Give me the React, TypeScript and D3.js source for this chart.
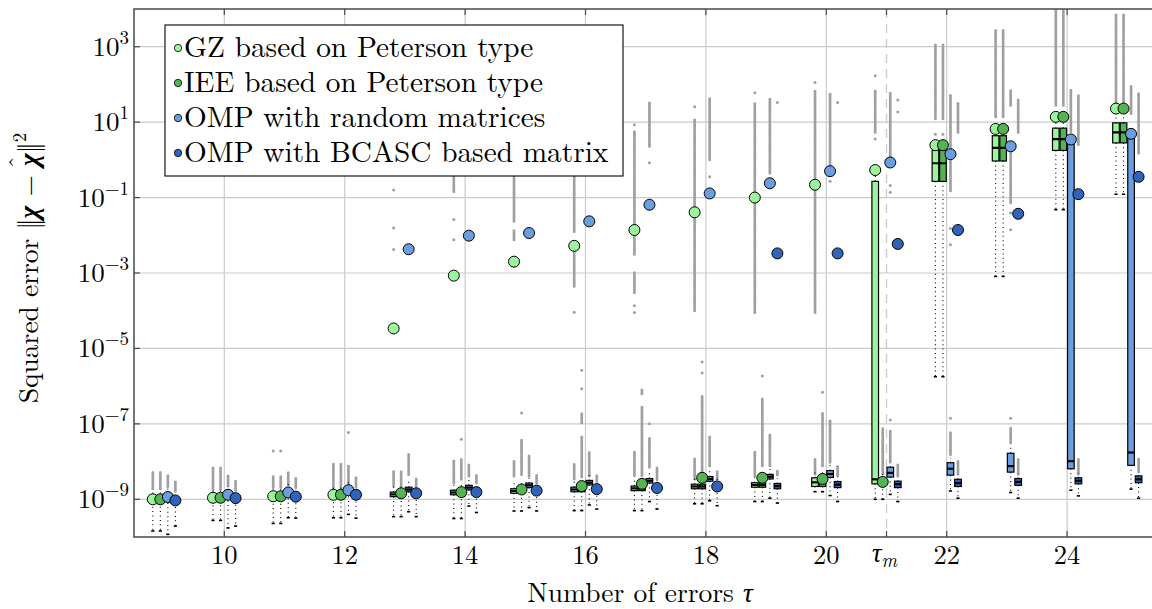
import React from 'react';
import * as d3 from 'd3';

// ---------------- data (log10 of squared error) ----------------
const TAUS = [9, 10, 11, 12, 13, 14, 15, 16, 17, 18, 19, 20, 21, 22, 23, 24, 25];
const X_TICKS = [10, 12, 14, 16, 18, 20, 22, 24];
const TAU_M = 21;
const Y_TICK_EXPONENTS = [-9, -7, -5, -3, -1, 1, 3];

const SERIES_NAMES = [
  'GZ based on Peterson type',
  'IEE based on Peterson type',
  'OMP with random matrices',
  'OMP with BCASC based matrix',
];

const gzMean = [-9.0, -8.96, -8.92, -8.88, -4.47, -3.07, -2.7, -2.28, -1.86, -1.39, -1.0, -0.66, -0.27, 0.39, 0.82, 1.14, 1.36];
const ieeMean = [-9.0, -8.96, -8.92, -8.88, -8.84, -8.81, -8.74, -8.65, -8.59, -8.43, -8.43, -8.46, -8.54, 0.39, 0.82, 1.14, 1.36];
const randMean = [-8.94, -8.88, -8.82, -8.76, -2.37, -2.01, -1.94, -1.63, -1.19, -0.89, -0.62, -0.3, -0.07, 0.15, 0.36, 0.54, 0.69];
const bcascMean = [-9.03, -8.97, -8.93, -8.88, -8.84, -8.81, -8.77, -8.73, -8.7, -8.66, -2.48, -2.48, -2.23, -1.86, -1.43, -0.91, -0.45];

const gzQ1 = [-9.08, -9.04, -9.0, -8.96, -8.93, -8.88, -8.84, -8.8, -8.77, -8.72, -8.68, -8.66, -8.59, -0.57, -0.03, 0.25, 0.45];
const gzMed = [-9.02, -8.98, -8.94, -8.9, -8.87, -8.82, -8.78, -8.74, -8.71, -8.66, -8.62, -8.55, -8.47, -0.09, 0.32, 0.55, 0.73];
const gzQ3 = [-8.96, -8.92, -8.88, -8.84, -8.81, -8.76, -8.72, -8.68, -8.65, -8.6, -8.56, -8.43, -0.57, 0.25, 0.64, 0.84, 0.98];
const gzLo = [-9.84, -9.56, -9.64, -9.49, -9.46, -9.51, -9.31, -9.3, -9.3, -9.12, -9.06, -8.8, -9.0, -5.75, -3.09, -1.32, -0.91];
const gzHi = [-8.8, -8.76, -8.72, -8.68, -8.65, -8.6, -8.56, -8.52, -8.5, -8.45, -8.4, -8.25, -0.3, 0.5, 0.95, 1.2, 1.4];

const ieeQ1 = [-9.08, -9.04, -9.0, -8.96, -8.93, -8.88, -8.84, -8.8, -8.77, -8.72, -8.68, -8.66, -8.62, -0.57, -0.03, 0.25, 0.45];
const ieeMed = [-9.02, -8.98, -8.94, -8.9, -8.87, -8.82, -8.78, -8.74, -8.71, -8.66, -8.62, -8.55, -8.55, -0.09, 0.32, 0.55, 0.73];
const ieeQ3 = [-8.96, -8.92, -8.88, -8.84, -8.81, -8.76, -8.72, -8.68, -8.65, -8.6, -8.56, -8.43, -8.48, 0.25, 0.64, 0.84, 0.98];
const ieeLo = [-9.84, -9.56, -9.64, -9.49, -9.46, -9.51, -9.31, -9.3, -9.3, -9.12, -9.06, -8.8, -9.0, -5.75, -3.09, -1.32, -0.91];
const ieeHi = [-8.8, -8.76, -8.72, -8.68, -8.65, -8.6, -8.56, -8.52, -8.5, -8.45, -8.4, -8.25, -8.3, 0.5, 0.95, 1.2, 1.4];

const randQ1 = [-8.98, -8.92, -8.86, -8.81, -8.8, -8.75, -8.69, -8.62, -8.57, -8.52, -8.46, -8.42, -8.41, -8.36, -8.28, -8.19, -8.1];
const randMed = [-8.92, -8.86, -8.8, -8.75, -8.74, -8.69, -8.63, -8.56, -8.51, -8.46, -8.4, -8.33, -8.3, -8.19, -8.12, -7.99, -7.76];
const randQ3 = [-8.86, -8.8, -8.74, -8.69, -8.68, -8.63, -8.57, -8.5, -8.45, -8.4, -8.34, -8.24, -8.15, -8.03, -7.78, 0.48, 0.59];
const randLo = [-9.93, -9.76, -9.49, -9.4, -9.33, -9.18, -9.22, -9.15, -9.06, -9.04, -8.97, -8.9, -8.87, -8.78, -8.82, -8.76, -8.73];
const randHi = [-8.7, -8.62, -8.56, -8.5, -8.5, -8.45, -8.4, -8.3, -8.25, -8.2, -8.15, -8.05, -8.05, -7.9, -7.55, 0.7, 0.8];

const bcascQ1 = [-9.09, -9.03, -8.99, -8.94, -8.9, -8.87, -8.83, -8.79, -8.76, -8.72, -8.72, -8.69, -8.69, -8.66, -8.63, -8.59, -8.56];
const bcascMed = [-9.03, -8.97, -8.93, -8.88, -8.84, -8.81, -8.77, -8.73, -8.7, -8.66, -8.65, -8.61, -8.6, -8.57, -8.54, -8.51, -8.47];
const bcascQ3 = [-8.97, -8.91, -8.87, -8.82, -8.78, -8.75, -8.71, -8.67, -8.64, -8.6, -8.58, -8.53, -8.52, -8.47, -8.45, -8.43, -8.38];
const bcascLo = [-9.71, -9.71, -9.5, -9.5, -9.46, -9.35, -9.31, -9.26, -9.26, -9.17, -9.1, -9.06, -9.06, -8.97, -8.97, -8.91, -8.97];
const bcascHi = [-8.85, -8.8, -8.75, -8.7, -8.68, -8.65, -8.6, -8.55, -8.5, -8.45, -8.45, -8.4, -8.4, -8.35, -8.32, -8.3, -8.27];

// outlier ranges: [tau, lowest log10, highest log10]
const gzOutliers = [
  [9, -8.72, -8.28], [10, -8.74, -8.16], [11, -8.69, -8.36], [11, -7.72, -7.72], [12, -8.74, -8.03],
  [13, -8.65, -8.25], [13, -2.38, -2.38], [13, -1.81, -1.81], [13, -0.8, -0.8],
  [14, -8.56, -7.94], [14, -2.12, -2.12], [14, -1.58, -1.58], [14, -0.84, 0.5],
  [15, -8.38, -7.99], [15, -2.12, -1.85], [15, -1.63, 0.5],
  [16, -8.46, -8.06], [16, -4.04, -4.04], [16, -3.35, -2.12], [16, -1.9, 0.5],
  [17, -8.37, -7.71], [17, -4.05, -4.05], [17, -3.87, -3.87], [17, -3.52, -2.95], [17, -2.5, 0.75], [17, 0.93, 0.93],
  [18, -8.46, -7.93], [18, -4.0, 1.06], [18, 1.41, 1.41],
  [19, -8.37, -7.71], [19, -4.05, 1.5], [19, 1.78, 1.78],
  [20, -8.33, -7.93], [20, -4.05, 1.85], [20, 2.05, 2.05],
  [21, 0.55, 0.55], [21, 0.73, 1.86], [21, 2.23, 2.23],
  [22, 0.5, 0.5], [22, 0.68, 0.68], [22, 1.09, 3.05],
  [23, 1.14, 3.45], [24, 1.45, 4.0], [25, 1.5, 3.86],
];
const ieeOutliers = [
  [9, -8.72, -8.28], [10, -8.74, -8.16], [11, -8.69, -8.36], [11, -7.72, -7.72], [12, -8.74, -8.03],
  [13, -8.65, -8.25],
  [14, -8.47, -7.94], [14, -7.41, -7.41],
  [15, -8.34, -7.41], [15, -6.71, -6.71],
  [16, -8.4, -7.31], [16, -6.97, -6.71], [16, -6.07, -6.07], [16, -5.58, -5.58],
  [17, -8.37, -6.51], [17, -6.2, -6.09],
  [18, -8.33, -6.25], [18, -5.65, -5.65], [18, -5.36, -5.36],
  [19, -8.11, -6.34], [19, -5.73, -5.73],
  [20, -8.11, -6.69], [20, -6.16, -6.16],
  [21, -8.32, -7.09],
  [22, 0.5, 0.5], [22, 0.68, 0.68], [22, 1.09, 3.05],
  [23, 1.14, 3.45], [24, 1.45, 4.0], [25, 1.5, 3.86],
];
const randOutliers = [
  [9, -8.66, -8.35], [10, -8.62, -8.38], [11, -8.63, -8.28], [12, -8.6, -8.1], [12, -7.23, -7.23],
  [13, -8.34, -7.81], [14, -8.38, -8.05], [15, -8.38, -7.81], [16, -8.38, -7.72],
  [17, -8.15, -7.35], [17, -7.0, -7.0], [17, -0.08, -0.08], [17, 0.36, 1.55],
  [18, -8.11, -7.31], [18, -0.45, -0.45], [18, 0.0, 1.63],
  [19, -8.11, -7.27], [19, -0.35, 1.63],
  [20, -8.02, -6.91], [20, -0.57, -0.57], [20, -0.17, 1.77],
  [21, -8.01, -7.19], [21, -6.9, -6.9], [21, -0.86, -0.86], [21, -0.68, -0.68], [21, 0.05, 1.77],
  [22, -7.81, -7.19], [22, -6.85, -6.85], [22, -2.25, -2.25], [22, -1.82, -1.82], [22, -0.82, 1.73],
  [23, -7.5, -7.1], [23, -6.85, -6.85], [23, -1.85, -1.85], [23, -1.41, -1.41], [23, -1.14, 0.23], [23, 1.45, 1.85],
  [24, 0.75, 1.88], [25, 1.23, 1.97],
];
const bcascOutliers = [
  [9, -8.78, -8.54], [10, -8.76, -8.48], [11, -8.69, -8.45], [12, -8.67, -8.4],
  [13, -8.65, -8.43], [14, -8.56, -8.34], [15, -8.56, -8.34], [16, -8.52, -8.34],
  [17, -8.46, -8.15], [18, -8.46, -8.24], [19, -8.35, -8.21], [19, 1.52, 1.52],
  [20, -8.37, -8.11], [20, 1.52, 1.52],
  [21, -8.38, -8.05], [21, 1.27, 1.27], [21, 1.59, 1.59],
  [22, -8.33, -7.97], [22, 0.73, 1.5],
  [23, -8.33, -7.93], [23, 0.73, 1.59],
  [24, -8.33, -7.93], [24, 0.41, 1.73],
  [25, -8.27, -7.91], [25, 0.18, 1.79],
];

// ---------------- style / layout ----------------
const COLORS = ['#9cf59c', '#52b552', '#6b9ee0', '#3163bb'];
const OFFSETS = [-0.1875, -0.0625, 0.0625, 0.1875];
const FONT = '"Latin Modern Roman", "Liberation Serif", serif';
const GRID = '#cbcbcb';
const AXIS = '#4a4a4a';
const OUT = '#a0a0a0';

const series = [
  { mean: gzMean, q1: gzQ1, med: gzMed, q3: gzQ3, lo: gzLo, hi: gzHi, out: gzOutliers },
  { mean: ieeMean, q1: ieeQ1, med: ieeMed, q3: ieeQ3, lo: ieeLo, hi: ieeHi, out: ieeOutliers },
  { mean: randMean, q1: randQ1, med: randMed, q3: randQ3, lo: randLo, hi: randHi, out: randOutliers },
  { mean: bcascMean, q1: bcascQ1, med: bcascMed, q3: bcascQ3, lo: bcascLo, hi: bcascHi, out: bcascOutliers },
];

const W = 1152;
const H = 609;
const L = 134, R = 1157.4, T = 9, B = 537;

const x = d3.scaleLinear().domain([8.5, 25.5]).range([L, R]);
const y = d3.scaleLog().domain([1e-10, 1e4]).range([B, T]);
const Y = (e: number) => y(Math.pow(10, e));
const BOXW = x(0.11) - x(0);

const txt: React.CSSProperties = { fontFamily: FONT };

export default function App() {
  return (
    <svg width={W} height={H} style={{ position: 'absolute', left: 0, top: 0, background: '#fff', fontFamily: FONT }}>
      <defs>
        <clipPath id="plot">
          <rect x={L} y={T} width={R - L} height={B - T} />
        </clipPath>
      </defs>
      <rect x={0} y={0} width={W} height={H} fill="#fff" />
      {/* grid */}
      {X_TICKS.map((t) => (
        <line key={'gx' + t} x1={x(t)} x2={x(t)} y1={T} y2={B} stroke={GRID} strokeWidth={1.2} />
      ))}
      {Y_TICK_EXPONENTS.map((e) => (
        <line key={'gy' + e} x1={L} x2={R} y1={Y(e)} y2={Y(e)} stroke={GRID} strokeWidth={1.2} />
      ))}
      <line x1={x(TAU_M)} x2={x(TAU_M)} y1={T} y2={B} stroke={GRID} strokeWidth={1.3} strokeDasharray="9 6" />

      <g clipPath="url(#plot)">
        {series.map((s, si) => (
          <g key={'s' + si}>
            {s.out.map((o, i) => {
              const cx = x(o[0] + OFFSETS[si]);
              if (o[1] === o[2]) return <circle key={i} cx={cx} cy={Y(o[1])} r={1.5} fill={OUT} />;
              return (
                <line key={i} x1={cx} x2={cx} y1={Y(o[1])} y2={Y(o[2])} stroke={OUT} strokeWidth={3}
                  strokeLinecap="round" strokeDasharray="0 1.8" />
              );
            })}
            {TAUS.map((t, i) => {
              const cx = x(t + OFFSETS[si]);
              const yq1 = Y(s.q1[i]), yq3 = Y(s.q3[i]), ym = Y(s.med[i]);
              const ylo = Y(s.lo[i]), yhi = Y(s.hi[i]);
              return (
                <g key={'b' + t}>
                  <line x1={cx} x2={cx} y1={yq1} y2={ylo} stroke="#000" strokeWidth={1.1} strokeDasharray="1 3.4" />
                  <line x1={cx} x2={cx} y1={yq3} y2={yhi} stroke="#000" strokeWidth={1.1} strokeDasharray="1 3.4" />
                  <line x1={cx - 1.6} x2={cx + 1.6} y1={ylo} y2={ylo} stroke="#000" strokeWidth={1.6} />
                  <rect x={cx - BOXW / 2} y={yq3} width={BOXW} height={Math.max(yq1 - yq3, 1)} fill={COLORS[si]}
                    stroke="#000" strokeWidth={1.2} />
                  <line x1={cx - BOXW / 2} x2={cx + BOXW / 2} y1={ym} y2={ym} stroke="#000" strokeWidth={2.2} />
                </g>
              );
            })}
          </g>
        ))}
        {series.map((s, si) => (
          <g key={'m' + si}>
            {TAUS.map((t, i) => (
              <circle key={t} cx={x(t + OFFSETS[si])} cy={Y(s.mean[i])} r={5.5} fill={COLORS[si]} stroke="#000" strokeWidth={1} />
            ))}
          </g>
        ))}
      </g>

      {/* legend */}
      <rect x={165} y={25} width={458} height={151} fill="#fff" stroke="#000" strokeWidth={1.1} />
      {SERIES_NAMES.map((n, i) => (
        <g key={n}>
          <circle cx={178} cy={48 + 35 * i} r={3.7} fill={COLORS[i]} stroke="#000" strokeWidth={0.8} />
          <text x={184} y={48 + 35 * i + 8.5} fontSize={29.3} style={txt}>{n}</text>
        </g>
      ))}

      {/* frame and ticks */}
      <rect x={L} y={T} width={R - L} height={B - T} fill="none" stroke={AXIS} strokeWidth={1.5} />
      {[...X_TICKS, TAU_M].map((t) => (
        <g key={'tx' + t}>
          <line x1={x(t)} x2={x(t)} y1={B} y2={B - 6} stroke={AXIS} strokeWidth={1.2} />
          <line x1={x(t)} x2={x(t)} y1={T} y2={T + 6} stroke={AXIS} strokeWidth={1.2} />
        </g>
      ))}
      {Y_TICK_EXPONENTS.map((e) => (
        <line key={'ty' + e} x1={L} x2={L + 6} y1={Y(e)} y2={Y(e)} stroke={AXIS} strokeWidth={1.2} />
      ))}

      {/* tick labels */}
      {X_TICKS.map((t) => (
        <text key={'lx' + t} x={x(t)} y={564} fontSize={26.5} style={txt} textAnchor="middle">{t}</text>
      ))}
      <text x={x(TAU_M) - 2} y={562} fontSize={26.5} style={txt} textAnchor="middle">
        <tspan fontStyle="italic">τ</tspan>
        <tspan fontStyle="italic" fontSize={19} dy={5}>m</tspan>
      </text>
      {Y_TICK_EXPONENTS.map((e) => (
        <text key={'ly' + e} x={129} y={Y(e) + 9} fontSize={27} style={txt} textAnchor="end">
          10<tspan fontSize={19} dy={-12}>{e < 0 ? '−' + Math.abs(e) : String(e)}</tspan>
        </text>
      ))}

      {/* axis titles */}
      <text x={640} y={602} fontSize={27.5} style={txt} textAnchor="middle">
        Number of errors <tspan fontStyle="italic">τ</tspan>
      </text>
      <g transform="translate(38,268) rotate(-90)">
        <text x={0} y={0} fontSize={27.5} style={txt} textAnchor="middle">
          Squared error ‖<tspan fontWeight="bold" fontStyle="italic">χ</tspan> − <tspan fontWeight="bold" fontStyle="italic">χ</tspan><tspan dx={-15} dy={-12} fontSize={24}>ˆ</tspan><tspan dy={12} dx={3}>‖</tspan><tspan fontSize={19} dy={-12}>2</tspan>
        </text>
      </g>
    </svg>
  );
}
